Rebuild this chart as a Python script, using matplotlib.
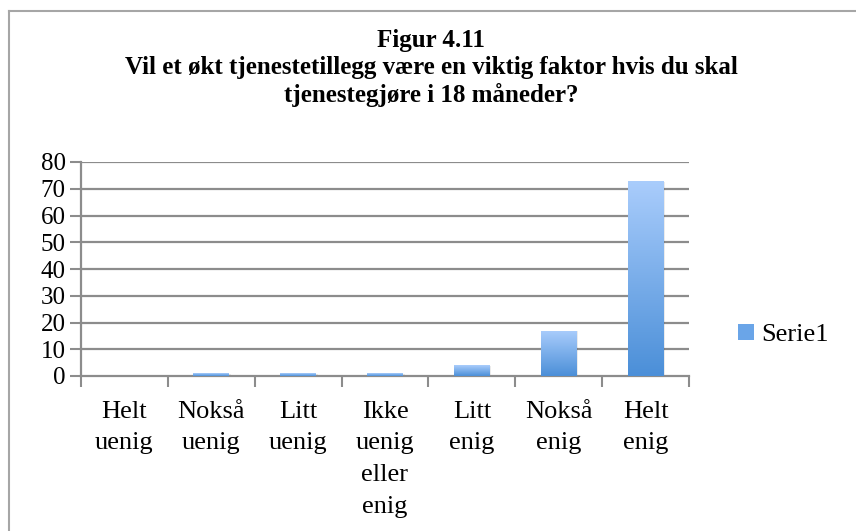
import numpy as np
import matplotlib
matplotlib.use('Agg')
import matplotlib.pyplot as plt
import matplotlib.patches as mpatches
from matplotlib.colors import LinearSegmentedColormap
from matplotlib.lines import Line2D

# ===== 数据 =====
categories = ['Helt\nuenig', 'Nokså\nuenig', 'Litt\nuenig', 'Ikke\nuenig\neller\nenig',
              'Litt\nenig', 'Nokså\nenig', 'Helt\nenig']
values = [0, 1, 1, 1, 4, 17, 73]
series_name = 'Serie1'
title = ('Figur 4.11\nVil et økt tjenestetillegg være en viktig faktor hvis du skal\n'
         'tjenestegjøre i 18 måneder?')
yticks = [0, 10, 20, 30, 40, 50, 60, 70, 80]

plt.rcParams['font.family'] = ['Liberation Serif', 'DejaVu Serif']

W, H = 856, 531
fig = plt.figure(figsize=(W / 100, H / 100), dpi=100)
fig.patch.set_facecolor('white')

# 外框（左、上两条边）
border = '#a6a6a6'
fig.add_artist(Line2D([9 / W, 9 / W], [0, 1 - 11 / H], color=border, lw=1.5,
                      transform=fig.transFigure))
fig.add_artist(Line2D([9 / W, 1], [1 - 11 / H, 1 - 11 / H], color=border, lw=1.5,
                      transform=fig.transFigure))

fig.text(0.5 + 3 / W, 1 - 29 / H, title, ha='center', va='top', fontsize=18,
         fontweight='bold', linespacing=1.22)

ax = fig.add_axes([81 / W, 1 - 376 / H, 608 / W, 214 / H])
x = np.arange(len(categories))
ax.set_xlim(-0.5, len(categories) - 0.5)
ax.set_ylim(0, 80)

grid_c = '#8c8c8c'
for yv in yticks[1:]:
    ax.axhline(yv, color=grid_c, lw=1.6, zorder=1)

# 渐变柱
cmap = LinearSegmentedColormap.from_list('bar', ['#4b8fd8', '#aacdfc'])
grad = np.linspace(0, 1, 256).reshape(-1, 1)
bw = 0.41
bars = ax.bar(x, values, width=bw, color='none', edgecolor='none', zorder=3)
for b, v in zip(bars, values):
    if v <= 0:
        continue
    x0 = b.get_x()
    # 阴影
    sh = mpatches.Rectangle((x0 + 0.02, 0), bw, v - 0.3, facecolor='#000000',
                            alpha=0.08, edgecolor='none', zorder=2)
    ax.add_patch(sh)
    im = ax.imshow(grad, cmap=cmap, origin='lower', aspect='auto',
                   extent=(x0, x0 + bw, 0, v), zorder=3)
    im.set_clip_path(b)

ax.set_yticks(yticks)
ax.set_yticklabels([str(t) for t in yticks], fontsize=18)
ax.set_xticks(np.arange(len(categories) + 1) - 0.5)
ax.set_xticklabels([])
ax.tick_params(axis='y', length=8, width=1.5, color=grid_c, pad=3)
ax.tick_params(axis='x', length=8, width=1.5, color=grid_c, direction='out')
for s in ['top', 'right']:
    ax.spines[s].set_visible(False)
ax.spines['left'].set_color(grid_c)
ax.spines['left'].set_linewidth(1.6)
ax.spines['bottom'].set_color(grid_c)
ax.spines['bottom'].set_linewidth(1.6)
ax.set_facecolor('none')

for xi, lab in zip(x, categories):
    ax.text(xi, -0.115, lab, transform=ax.get_xaxis_transform(), ha='center',
            va='top', fontsize=19, linespacing=1.57, multialignment='center')

# 图例
handle = mpatches.Patch(facecolor='#6aa5e8', edgecolor='none')
fig.legend([handle], [series_name], loc='center left',
           bbox_to_anchor=(714 / W, 1 - 335 / H), frameon=False, fontsize=19,
           handlelength=0.6, handleheight=0.6, handletextpad=0.3)

fig.savefig('out.png', dpi=100, facecolor='white')
